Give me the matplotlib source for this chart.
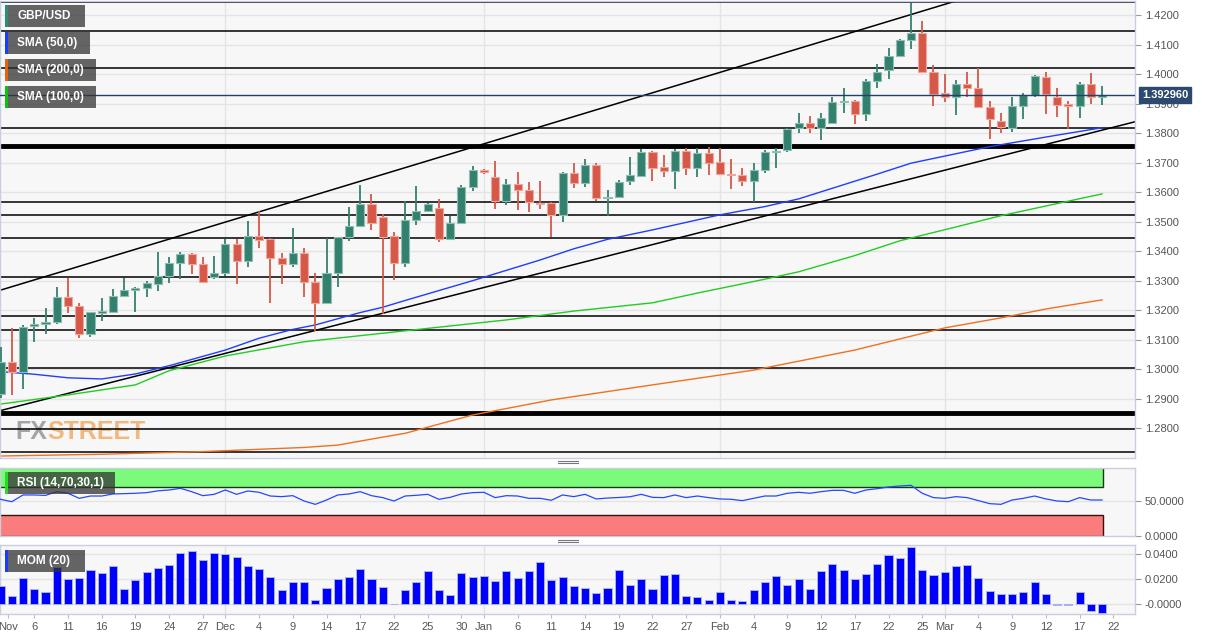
import matplotlib
matplotlib.use("Agg")
import matplotlib.pyplot as plt
from matplotlib.patches import Rectangle
from matplotlib.lines import Line2D

plt.rcParams['font.family'] = ['Liberation Sans', 'DejaVu Sans']

W, H = 1212, 640

# daily GBP/USD candles, Nov 3 2020 .. Mar 19 2021
opens = [1.2916, 1.3025, 1.2991, 1.3145, 1.3154, 1.3159, 1.3246, 1.3214, 1.3119, 1.3191,
         1.3195, 1.3249, 1.3268, 1.3274, 1.3288, 1.3316, 1.3361, 1.3390, 1.3356, 1.3311,
         1.3327, 1.3424, 1.3367, 1.3452, 1.3442, 1.3376, 1.3357, 1.3395, 1.3295, 1.3223,
         1.3325, 1.3449, 1.3486, 1.3560, 1.3515, 1.3451, 1.3359, 1.3506, 1.3537, 1.3547,
         1.3440, 1.3496, 1.3618, 1.3675, 1.3652, 1.3569, 1.3626, 1.3607, 1.3564, 1.3564,
         1.3522, 1.3666, 1.3632, 1.3692, 1.3581, 1.3584, 1.3636, 1.3656, 1.3737, 1.3684,
         1.3672, 1.3739, 1.3683, 1.3731, 1.3703, 1.3661, 1.3658, 1.3638, 1.3675, 1.3735,
         1.3743, 1.3818, 1.3833, 1.3818, 1.3835, 1.3905, 1.3909, 1.3865, 1.3978, 1.4014,
         1.4061, 1.4115, 1.4138, 1.4008, 1.3935, 1.3923, 1.3966, 1.3952, 1.3889, 1.3841,
         1.3818, 1.3892, 1.3930, 1.3991, 1.3921, 1.3899, 1.3892, 1.3965, 1.3923]
highs = [1.3075, 1.3140, 1.3150, 1.3175, 1.3206, 1.3278, 1.3310, 1.3225, 1.3195, 1.3240,
         1.3271, 1.3310, 1.3280, 1.3299, 1.3398, 1.3379, 1.3396, 1.3393, 1.3379, 1.3384,
         1.3440, 1.3440, 1.3502, 1.3537, 1.3445, 1.3393, 1.3477, 1.3412, 1.3325, 1.3444,
         1.3447, 1.3549, 1.3624, 1.3593, 1.3525, 1.3466, 1.3570, 1.3621, 1.3562, 1.3576,
         1.3519, 1.3623, 1.3688, 1.3677, 1.3704, 1.3644, 1.3669, 1.3633, 1.3638, 1.3565,
         1.3669, 1.3700, 1.3711, 1.3698, 1.3607, 1.3641, 1.3720, 1.3745, 1.3740, 1.3726,
         1.3745, 1.3750, 1.3748, 1.3754, 1.3750, 1.3711, 1.3683, 1.3698, 1.3743, 1.3748,
         1.3816, 1.3867, 1.3858, 1.3867, 1.3921, 1.3952, 1.3912, 1.3982, 1.4034, 1.4087,
         1.4118, 1.4242, 1.4181, 1.4031, 1.4000, 1.3980, 1.4008, 1.4019, 1.3909, 1.3867,
         1.3923, 1.3935, 1.3997, 1.4007, 1.3952, 1.3910, 1.3974, 1.4002, 1.3960]
lows = [1.2903, 1.2913, 1.2933, 1.3091, 1.3118, 1.3152, 1.3190, 1.3105, 1.3110, 1.3163,
        1.3189, 1.3245, 1.3193, 1.3246, 1.3265, 1.3291, 1.3306, 1.3322, 1.3291, 1.3305,
        1.3316, 1.3288, 1.3347, 1.3410, 1.3223, 1.3288, 1.3345, 1.3246, 1.3130, 1.3223,
        1.3278, 1.3436, 1.3483, 1.3472, 1.3186, 1.3302, 1.3347, 1.3488, 1.3537, 1.3431,
        1.3440, 1.3491, 1.3605, 1.3660, 1.3542, 1.3555, 1.3539, 1.3533, 1.3542, 1.3449,
        1.3500, 1.3613, 1.3616, 1.3571, 1.3519, 1.3580, 1.3624, 1.3650, 1.3639, 1.3650,
        1.3610, 1.3658, 1.3652, 1.3658, 1.3658, 1.3610, 1.3621, 1.3568, 1.3664, 1.3681,
        1.3737, 1.3801, 1.3799, 1.3777, 1.3833, 1.3869, 1.3831, 1.3842, 1.3952, 1.3982,
        1.4057, 1.4084, 1.4005, 1.3892, 1.3906, 1.3860, 1.3921, 1.3887, 1.3779, 1.3799,
        1.3805, 1.3847, 1.3921, 1.3865, 1.3855, 1.3813, 1.3850, 1.3899, 1.3894]
closes = [1.3025, 1.2991, 1.3143, 1.3152, 1.3159, 1.3246, 1.3215, 1.3119, 1.3193, 1.3196,
          1.3249, 1.3267, 1.3274, 1.3291, 1.3316, 1.3361, 1.3390, 1.3357, 1.3295, 1.3327,
          1.3424, 1.3367, 1.3452, 1.3438, 1.3378, 1.3357, 1.3395, 1.3297, 1.3225, 1.3325,
          1.3447, 1.3486, 1.3560, 1.3494, 1.3449, 1.3361, 1.3506, 1.3536, 1.3559, 1.3440,
          1.3496, 1.3616, 1.3675, 1.3667, 1.3569, 1.3626, 1.3608, 1.3568, 1.3561, 1.3522,
          1.3664, 1.3632, 1.3692, 1.3579, 1.3585, 1.3634, 1.3657, 1.3737, 1.3681, 1.3671,
          1.3739, 1.3683, 1.3731, 1.3700, 1.3661, 1.3657, 1.3638, 1.3675, 1.3737, 1.3740,
          1.3814, 1.3833, 1.3818, 1.3850, 1.3906, 1.3910, 1.3865, 1.3975, 1.4007, 1.4061,
          1.4115, 1.4138, 1.4008, 1.3932, 1.3923, 1.3966, 1.3954, 1.3889, 1.3848, 1.3820,
          1.3892, 1.3929, 1.3993, 1.3932, 1.3895, 1.3892, 1.3965, 1.3923, 1.3929]
last_price = 1.392960

# moving averages read at some candles
sma50_idx = [0, 3, 6, 9, 12, 15, 17, 20, 23, 26, 28, 32, 34, 36, 42, 48, 51, 54, 58,
             64, 68, 71, 75, 78, 81, 84, 88, 94, 98]
sma50_val = [1.2992, 1.2983, 1.2971, 1.2967, 1.2984, 1.3012, 1.3033, 1.3065, 1.3105, 1.3135,
             1.3150, 1.3192, 1.3210, 1.3233, 1.3300, 1.3370, 1.3408, 1.3440, 1.3472,
             1.3523, 1.3551, 1.3577, 1.3625, 1.3661, 1.3698, 1.3722, 1.3754, 1.3793, 1.3818]
sma100_idx = [0, 6, 12, 15, 20, 27, 34, 45, 51, 58, 62, 68, 71, 76, 80, 85, 89, 93, 98]
sma100_val = [1.2882, 1.2913, 1.2947, 1.2995, 1.3045, 1.3093, 1.3122, 1.3167, 1.3197, 1.3225,
              1.3258, 1.3305, 1.3330, 1.3385, 1.3435, 1.3482, 1.3520, 1.3553, 1.3594]
sma200_idx = [0, 9, 18, 27, 30, 34, 36, 42, 49, 58, 67, 76, 84, 89, 93, 98]
sma200_val = [1.2706, 1.2712, 1.2721, 1.2735, 1.2743, 1.2770, 1.2783, 1.2845, 1.2896, 1.2947,
              1.2997, 1.3065, 1.3140, 1.3174, 1.3204, 1.3235]

# drawn trend lines and levels
upper_idx = [0, 101]
upper_val = [1.3268, 1.4432]
lower_idx = [0, 101]
lower_val = [1.2860, 1.3839]
levels = [1.4244, 1.4146, 1.4021, 1.3817, 1.3567, 1.3523, 1.3445, 1.3313, 1.3180,
          1.3133, 1.3004, 1.2798, 1.2720]
thick_levels = [1.3756, 1.2852]

rsi = [52.4, 49.0, 58.6, 58.6, 58.0, 63.3, 61.0, 53.8, 57.1, 57.1,
       60.0, 60.5, 61.0, 61.9, 64.5, 65.7, 68.1, 63.3, 57.6, 59.5,
       65.7, 59.5, 64.3, 62.4, 57.1, 56.2, 57.6, 50.0, 45.2, 51.4,
       58.6, 60.0, 63.3, 57.6, 54.8, 50.0, 57.1, 58.1, 59.5, 52.4,
       55.2, 60.0, 61.9, 62.4, 54.8, 57.6, 57.1, 53.8, 53.8, 51.0,
       58.6, 56.2, 59.5, 52.9, 54.2, 55.0, 56.0, 59.5, 55.2, 54.8,
       58.6, 54.8, 57.1, 54.8, 52.9, 52.4, 50.5, 53.8, 57.1, 57.1,
       61.0, 62.4, 61.0, 63.3, 65.2, 65.2, 61.0, 65.7, 67.6, 70.0,
       71.4, 72.4, 61.0, 54.8, 53.8, 56.2, 54.8, 50.5, 46.2, 45.2,
       51.4, 53.8, 57.1, 52.9, 50.0, 49.0, 54.8, 51.4, 51.4]

mom = [0.0147, 0.0067, 0.0205, 0.0120, 0.0099, 0.0299, 0.0200, 0.0205, 0.0275, 0.0248,
       0.0301, 0.0120, 0.0192, 0.0256, 0.0291, 0.0315, 0.0405, 0.0424, 0.0352, 0.0411,
       0.0397, 0.0379, 0.0307, 0.0283, 0.0216, 0.0109, 0.0179, 0.0173, 0.0035, 0.0128,
       0.0197, 0.0219, 0.0283, 0.0200, 0.0136, 0.0003, 0.0115, 0.0179, 0.0261, 0.0112,
       0.0072, 0.0251, 0.0219, 0.0227, 0.0187, 0.0267, 0.0211, 0.0267, 0.0333, 0.0195,
       0.0213, 0.0141, 0.0131, 0.0091, 0.0131, 0.0272, 0.0152, 0.0200, 0.0120, 0.0229,
       0.0243, 0.0064, 0.0056, 0.0035, 0.0093, 0.0035, 0.0027, 0.0112, 0.0176, 0.0221,
       0.0149, 0.0203, 0.0123, 0.0267, 0.0317, 0.0272, 0.0203, 0.0237, 0.0323, 0.0389,
       0.0371, 0.0453, 0.0272, 0.0229, 0.0259, 0.0304, 0.0312, 0.0211, 0.0107, 0.0077,
       0.0077, 0.0099, 0.0173, 0.0077, -0.0005, -0.0008, 0.0099, -0.0053, -0.0075]

month_idx = [20, 43, 64, 84]
tick_idx = [0.7, 3, 6, 9, 12, 15, 18, 20, 23, 26, 29, 32, 35, 38, 41, 43, 46, 49, 52, 55,
            58, 61, 64, 67, 70, 73, 76, 79, 82, 84, 87, 90, 93, 96, 99]
tick_lbl = ['Nov', '6', '11', '16', '19', '24', '27', 'Dec', '4', '9', '14', '17', '22',
            '25', '30', 'Jan', '6', '11', '14', '19', '22', '27', 'Feb', '4', '9', '12',
            '17', '22', '25', 'Mar', '4', '9', '12', '17', '22']

legend_names = ['GBP/USD', 'SMA (50,0)', 'SMA (200,0)', 'SMA (100,0)']
legend_colors = ['#2e8b74', '#1a3cff', '#e8620a', '#10c010']
legend_widths = [80, 85, 91, 91]

GREEN = '#34806e'
RED = '#d65848'
BG = '#f7f7f7'
SPINE = '#c9cede'
GRID = '#e4e4e4'


def fx(x):
    return x / W


def fy(y):
    return 1 - y / H


def style_panel(a):
    a.set_facecolor(BG)
    for s in a.spines.values():
        s.set_color(SPINE)
        s.set_linewidth(1)
    a.yaxis.tick_right()
    a.tick_params(axis='y', length=4, color='#999999', labelsize=8,
                  labelcolor='#555555', pad=3)
    a.set_xlim(-0.05, 100.93)
    for m in month_idx:
        a.axvline(m, color=GRID, lw=1, zorder=0.5)


fig = plt.figure(figsize=(W / 100, H / 100), dpi=100)
ax = fig.add_axes([0, fy(458), fx(1135), 457 / H])
rsi_ax = fig.add_axes([0, fy(536), fx(1135), 68 / H])
mom_ax = fig.add_axes([0, fy(614), fx(1135), 69 / H])

# ---- price panel
style_panel(ax)
ax.set_ylim(1.26993, 1.42474)
yt = [1.28 + 0.01 * i for i in range(15)]
ax.set_yticks(yt)
ax.set_yticklabels(['%.4f' % v for v in yt])
ax.set_xticks([])
for v in yt:
    ax.axhline(v, color=GRID, lw=1, zorder=0.5)

for v in levels:
    ax.axhline(v, color='black', lw=1.1, zorder=2)
for v in thick_levels:
    ax.axhline(v, color='black', lw=3.5, zorder=2)
ax.plot(upper_idx, upper_val, color='black', lw=1.1, zorder=2)
ax.plot(lower_idx, lower_val, color='black', lw=1.1, zorder=2)

ax.plot(sma200_idx, sma200_val, color='#f07020', lw=1, zorder=2.5)
ax.plot(sma100_idx, sma100_val, color='#22cc22', lw=1, zorder=2.5)
ax.plot(sma50_idx, sma50_val, color='#1f3dff', lw=1, zorder=2.5)

idx = list(range(len(closes)))
cols = [GREEN if c >= o else RED for o, c in zip(opens, closes)]
edges = ['#8fbfb2' if c >= o else '#eda79d' for o, c in zip(opens, closes)]
ax.vlines(idx, lows, highs, colors=cols, lw=1.3, zorder=3)
bottoms = [min(o, c) for o, c in zip(opens, closes)]
heights = [max(abs(c - o), 0.00012) for o, c in zip(opens, closes)]
ax.bar(idx, heights, bottom=bottoms, width=0.72, color=cols, edgecolor=edges,
       linewidth=0.8, zorder=4)

ax.axhline(last_price, color='#24406b', lw=1, zorder=4.5)
ax.annotate('%.6f' % last_price, xy=(1.0, last_price), xycoords=('axes fraction', 'data'),
            xytext=(5, 0), textcoords='offset points', va='center', ha='left',
            color='white', fontsize=8, fontweight='bold',
            bbox=dict(boxstyle='square,pad=0.25', fc='#2c4a70', ec='#2c4a70'),
            zorder=10, annotation_clip=False)

# watermark
fx_txt = ax.text(fx(15), fy(439), 'FX', transform=fig.transFigure, color='#9c9c9c',
                 alpha=0.9, fontsize=18, fontweight='bold', va='baseline', zorder=1)
ax.annotate('STREET', xy=(1, 0), xycoords=fx_txt, xytext=(0, 0),
            textcoords='offset points', ha='left', va='bottom', color='#f2b070',
            alpha=0.9, fontsize=18, fontweight='bold', zorder=1)

# ---- RSI panel
style_panel(rsi_ax)
rsi_ax.set_ylim(0, 97.1)
rsi_ax.set_xticks([])
rsi_ax.set_yticks([0, 50])
rsi_ax.set_yticklabels(['0.0000', '50.0000'])
rsi_ax.axhline(50, color=GRID, lw=1, zorder=0.5)
rsi_ax.add_patch(Rectangle((-1, 70), 99.1, 40, fc='#7cfa7c', ec='#183818', lw=1, zorder=1))
rsi_ax.add_patch(Rectangle((-1, 0), 99.1, 30, fc='#fa7c7c', ec='#381010', lw=1, zorder=1))
rsi_ax.plot(idx, rsi, color='#2548ff', lw=0.9, zorder=3)

# ---- momentum panel
style_panel(mom_ax)
mom_ax.set_ylim(-0.008, 0.0472)
mom_ax.set_yticks([0.04, 0.02, 0.0])
mom_ax.set_yticklabels(['0.0400', '0.0200', '-0.0000'])
for v in [0.04, 0.02, 0.0]:
    mom_ax.axhline(v, color=GRID, lw=1, zorder=0.5)
mom_ax.bar(idx, mom, width=0.72, color='#0000ff', edgecolor='#aab4ee', linewidth=0.7,
           zorder=3)
mom_ax.set_xticks(tick_idx)
mom_ax.set_xticklabels(tick_lbl)
mom_ax.tick_params(axis='x', length=3, color='#bbbbbb', labelsize=8, labelcolor='#555555',
                   pad=3)

# ---- legend boxes
for i, (name, c, w) in enumerate(zip(legend_names, legend_colors, legend_widths)):
    top = 5 + 27 * i
    fig.add_artist(Rectangle((fx(5), fy(top + 22)), fx(w), 22 / H, transform=fig.transFigure,
                             fc='#333333', alpha=0.75, ec='none', zorder=5))
    fig.add_artist(Rectangle((fx(5), fy(top + 22)), fx(3), 22 / H, transform=fig.transFigure,
                             fc=c, ec='none', zorder=6))
    fig.text(fx(17), fy(top + 11), name, color='white', fontsize=8.5, fontweight='bold',
             va='center', zorder=7)

for name, c, w, top in [('RSI (14,70,30,1)', '#22dd22', 110, 472), ('MOM (20)', '#1a3cff', 80, 550)]:
    fig.add_artist(Rectangle((fx(5), fy(top + 22)), fx(w), 22 / H, transform=fig.transFigure,
                             fc='#333333', alpha=0.75, ec='none', zorder=5))
    fig.add_artist(Rectangle((fx(5), fy(top + 22)), fx(3), 22 / H, transform=fig.transFigure,
                             fc=c, ec='none', zorder=6))
    fig.text(fx(17), fy(top + 11), name, color='white', fontsize=8.5, fontweight='bold',
             va='center', zorder=7)

# panel resize handles
for y in [461, 463, 540, 542]:
    fig.add_artist(Line2D([fx(558), fx(578)], [fy(y), fy(y)], color='#777777', lw=0.8,
                          transform=fig.transFigure))

fig.savefig('out.png', dpi=100, facecolor='white')
